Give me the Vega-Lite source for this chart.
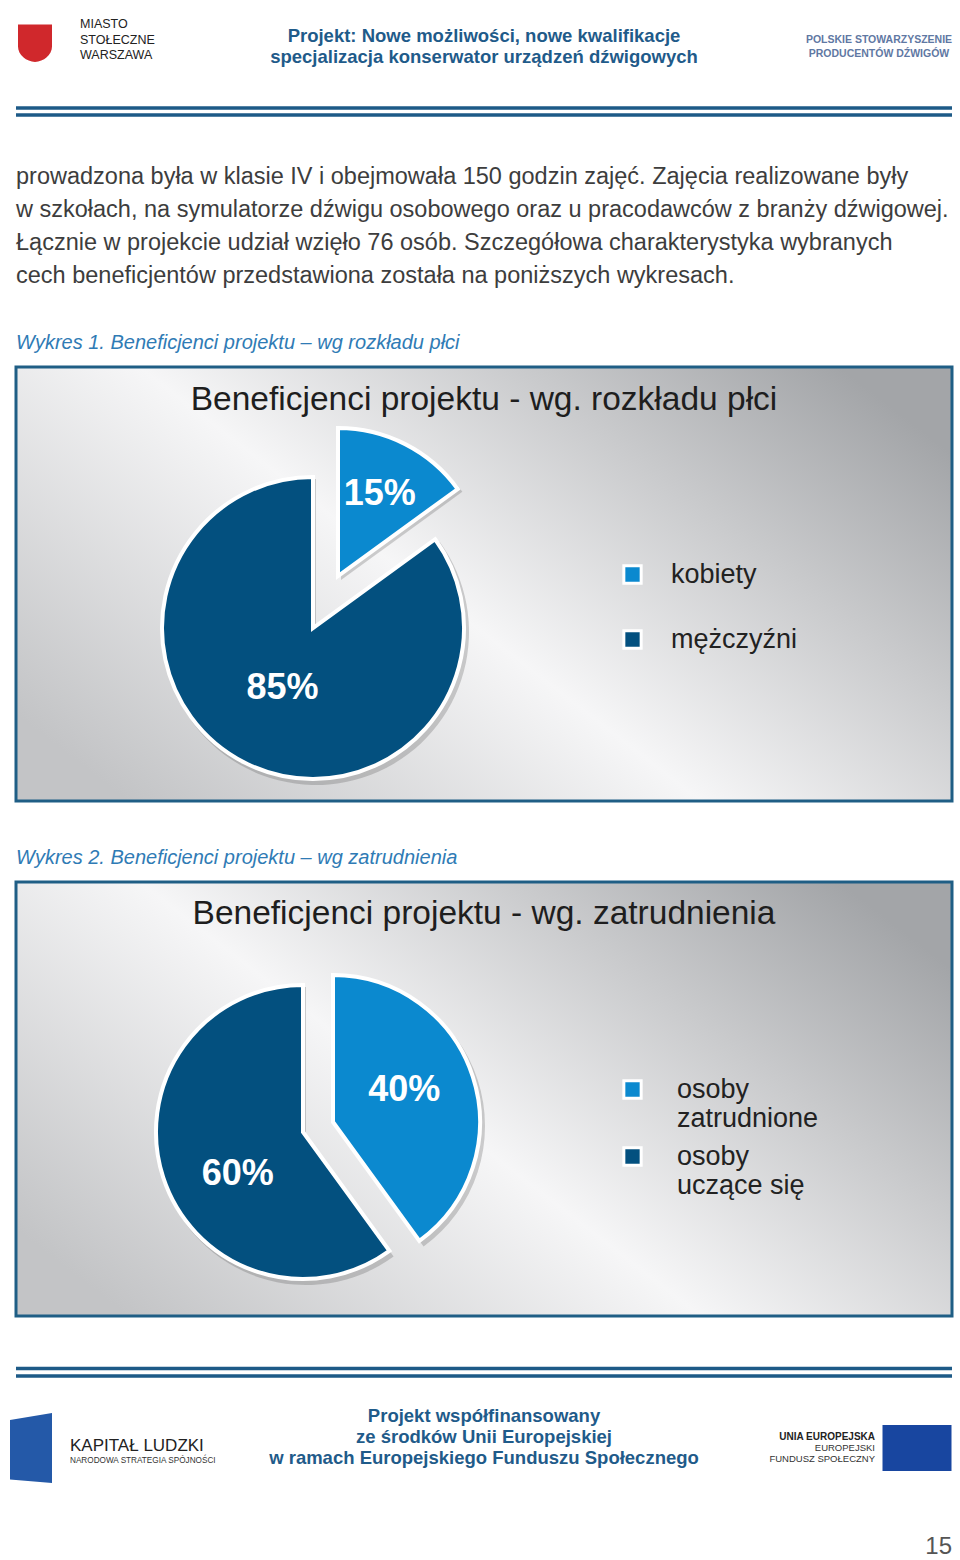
{
  "$schema": "https://vega.github.io/schema/vega-lite/v6.json",
  "background": "white",
  "padding": {"left": 10, "right": 8, "top": 0, "bottom": 0},
  "spacing": 43,
  "config": {"view": {"stroke": null}, "font": "Liberation Sans"},
  "resolve": {"scale": {"color": "independent", "theta": "independent"}, "legend": {"color": "independent"}},
  "vconcat": [
    {
      "width": 936,
      "height": 115,
      "title": {
        "text": [
          "prowadzona była w klasie IV i obejmowała 150 godzin zajęć. Zajęcia realizowane były",
          "w szkołach, na symulatorze dźwigu osobowego oraz u pracodawców z branży dźwigowej.",
          "Łącznie w projekcie udział wzięło 76 osób. Szczegółowa charakterystyka wybranych",
          "cech beneficjentów przedstawiona została na poniższych wykresach."
        ],
        "orient": "bottom",
        "anchor": "start",
        "frame": "group",
        "offset": 48,
        "font": "Liberation Sans",
        "fontSize": 23.5,
        "fontWeight": "normal",
        "color": "#3d3d3d",
        "lineHeight": 33
      },
      "layer": [
        {
          "data": {"values": [{"linia": "górna"}, {"linia": "dolna"}]},
          "mark": {"type": "rule", "color": "#1d5a87", "strokeWidth": 3.5},
          "encoding": {
            "y": {"field": "linia", "type": "nominal", "scale": {"type": "point", "domain": ["górna", "dolna"], "range": [108, 115], "padding": 0}, "axis": null}
          }
        },
        {
          "data": {"values": [{"blok": "miasto", "herb": "Warszawa"}]},
          "mark": {"type": "point", "shape": "M-1,-1H1V0.3C1,0.8 0.5,1.2 0,1.2C-0.5,1.2 -1,0.8 -1,0.3Z", "size": 1156, "filled": true, "color": "#d0282c", "opacity": 1, "xOffset": -45, "yOffset": -16},
          "encoding": {
            "x": {"field": "blok", "type": "nominal", "scale": {"type": "point", "domain": ["miasto", "psp"], "range": [64, 863], "padding": 0}, "axis": null}
          }
        },
        {
          "data": {"values": [{"blok": "miasto", "tekst": ["MIASTO", "STOŁECZNE", "WARSZAWA"]}]},
          "mark": {"type": "text", "align": "left", "baseline": "middle", "font": "Liberation Sans Narrow, Liberation Sans", "fontSize": 12.5, "lineHeight": 15.5, "color": "#222222", "dy": -33.5},
          "encoding": {
            "x": {"field": "blok", "type": "nominal", "scale": {"type": "point", "domain": ["miasto", "psp"], "range": [64, 863], "padding": 0}, "axis": null},
            "text": {"field": "tekst", "type": "nominal"}
          }
        },
        {
          "data": {"values": [{"blok": "psp", "tekst": ["POLSKIE STOWARZYSZENIE", "PRODUCENTÓW DŹWIGÓW"]}]},
          "mark": {"type": "text", "align": "center", "baseline": "middle", "fontSize": 10.5, "fontWeight": "bold", "lineHeight": 14, "color": "#5f78a3", "dy": -18},
          "encoding": {
            "x": {"field": "blok", "type": "nominal", "scale": {"type": "point", "domain": ["miasto", "psp"], "range": [64, 863], "padding": 0}, "axis": null},
            "text": {"field": "tekst", "type": "nominal"}
          }
        },
        {
          "data": {"values": [{"tekst": ["Projekt: Nowe możliwości, nowe kwalifikacje", "specjalizacja konserwator urządzeń dźwigowych"]}]},
          "mark": {"type": "text", "align": "center", "baseline": "middle", "fontSize": 18.5, "fontWeight": "bold", "lineHeight": 21, "color": "#1f5b8a", "dy": -22},
          "encoding": {"text": {"field": "tekst", "type": "nominal"}}
        }
      ]
    },
    {
      "width": 936,
      "height": 434,
      "view": {
        "fill": {"gradient": "linear", "x1": 0, "y1": 0.8, "x2": 1, "y2": 0.2, "stops": [{"offset": 0, "color": "#c3c4c6"}, {"offset": 0.45, "color": "#f6f6f7"}, {"offset": 0.75, "color": "#c9cacc"}, {"offset": 1, "color": "#a3a5a8"}]},
        "stroke": "#1f5e85",
        "strokeWidth": 3
      },
      "title": {"text": "Wykres 1. Beneficjenci projektu – wg rozkładu płci", "orient": "top", "anchor": "start", "frame": "group", "offset": 14, "font": "Liberation Sans", "fontSize": 20, "fontStyle": "italic", "fontWeight": "normal", "color": "#2f7bb5"},
      "data": {"values": [{"kategoria": "kobiety", "udzial": 0.15}, {"kategoria": "mężczyźni", "udzial": 0.85}]},
      "encoding": {
        "theta": {"field": "udzial", "type": "quantitative", "stack": true},
        "order": {"field": "udzial", "sort": "ascending"},
        "color": {
          "field": "kategoria", "type": "nominal",
          "scale": {"domain": ["kobiety", "mężczyźni"], "range": ["#0b89cf", "#03507f"]},
          "legend": {"orient": "none", "legendX": 603, "legendY": 194, "title": null, "symbolType": "square", "symbolSize": 300, "symbolStrokeColor": "white", "symbolStrokeWidth": 3, "labelFont": "Liberation Sans", "labelFontSize": 27, "labelColor": "#222222", "labelOffset": 25, "rowPadding": 34, "labelBaseline": "middle", "padding": 0, "labelLimit": 300}
        }
      },
      "layer": [
        {
          "mark": {"type": "arc", "outerRadius": 153, "x": 300, "y": 265},
          "encoding": {"color": {"value": "#4a4a4a"}, "opacity": {"condition": {"test": "datum.kategoria == 'kobiety'", "value": 0}, "value": 0.25}}
        },
        {
          "mark": {"type": "arc", "outerRadius": 150, "x": 325, "y": 213},
          "encoding": {"color": {"value": "#4a4a4a"}, "opacity": {"condition": {"test": "datum.kategoria == 'mężczyźni'", "value": 0}, "value": 0.25}}
        },
        {
          "mark": {"type": "arc", "outerRadius": 151, "stroke": "white", "strokeWidth": 4, "x": 297, "y": 261},
          "encoding": {"opacity": {"condition": {"test": "datum.kategoria == 'kobiety'", "value": 0}, "value": 1}}
        },
        {
          "mark": {"type": "arc", "outerRadius": 148, "stroke": "white", "strokeWidth": 4, "x": 322, "y": 209},
          "encoding": {"opacity": {"condition": {"test": "datum.kategoria == 'mężczyźni'", "value": 0}, "value": 1}}
        },
        {
          "mark": {"type": "text", "radius": 67, "fontSize": 36, "fontWeight": "bold", "x": 297, "y": 261},
          "encoding": {
            "text": {"field": "udzial", "type": "quantitative", "format": ".0%"},
            "color": {"value": "white"},
            "opacity": {"condition": {"test": "datum.kategoria == 'kobiety'", "value": 0}, "value": 1}
          }
        },
        {
          "mark": {"type": "text", "radius": 92, "fontSize": 36, "fontWeight": "bold", "x": 322, "y": 209},
          "encoding": {
            "text": {"field": "udzial", "type": "quantitative", "format": ".0%"},
            "color": {"value": "white"},
            "opacity": {"condition": {"test": "datum.kategoria == 'mężczyźni'", "value": 0}, "value": 1}
          }
        },
        {
          "data": {"values": [{"tytul": "Beneficjenci projektu - wg. rozkładu płci"}]},
          "mark": {"type": "text", "fontSize": 33.5, "baseline": "middle", "y": 33},
          "encoding": {"text": {"field": "tytul", "type": "nominal"}, "theta": null, "order": null, "color": {"value": "#1e1e1e"}}
        }
      ]
    },
    {
      "width": 936,
      "height": 434,
      "view": {
        "fill": {"gradient": "linear", "x1": 0, "y1": 0.8, "x2": 1, "y2": 0.2, "stops": [{"offset": 0, "color": "#c3c4c6"}, {"offset": 0.45, "color": "#f6f6f7"}, {"offset": 0.75, "color": "#c9cacc"}, {"offset": 1, "color": "#a3a5a8"}]},
        "stroke": "#1f5e85",
        "strokeWidth": 3
      },
      "title": {"text": "Wykres 2. Beneficjenci projektu – wg zatrudnienia", "orient": "top", "anchor": "start", "frame": "group", "offset": 14, "font": "Liberation Sans", "fontSize": 20, "fontStyle": "italic", "fontWeight": "normal", "color": "#2f7bb5"},
      "data": {"values": [{"status": "osoby zatrudnione", "udzial": 0.4}, {"status": "osoby uczące się", "udzial": 0.6}]},
      "encoding": {
        "theta": {"field": "udzial", "type": "quantitative", "stack": true},
        "order": {"field": "udzial", "sort": "ascending"},
        "color": {
          "field": "status", "type": "nominal",
          "scale": {"domain": ["osoby zatrudnione", "osoby uczące się"], "range": ["#0b89cf", "#03507f"]},
          "legend": {"orient": "none", "legendX": 603, "legendY": 194, "title": null, "symbolType": "square", "symbolSize": 300, "symbolStrokeColor": "white", "symbolStrokeWidth": 3, "labelFont": "Liberation Sans", "labelFontSize": 27, "labelColor": "#222222", "labelOffset": 31, "rowPadding": 9, "labelBaseline": "middle", "padding": 0, "labelLimit": 300, "labelExpr": "[slice(datum.label, 0, 5), slice(datum.label, 6)]"}
        }
      },
      "layer": [
        {
          "mark": {"type": "arc", "outerRadius": 149, "x": 290, "y": 254},
          "encoding": {"color": {"value": "#4a4a4a"}, "opacity": {"condition": {"test": "datum.status == 'osoby zatrudnione'", "value": 0}, "value": 0.25}}
        },
        {
          "mark": {"type": "arc", "outerRadius": 149, "x": 320, "y": 244},
          "encoding": {"color": {"value": "#4a4a4a"}, "opacity": {"condition": {"test": "datum.status == 'osoby uczące się'", "value": 0}, "value": 0.25}}
        },
        {
          "mark": {"type": "arc", "outerRadius": 147, "stroke": "white", "strokeWidth": 4, "x": 287, "y": 250},
          "encoding": {"opacity": {"condition": {"test": "datum.status == 'osoby zatrudnione'", "value": 0}, "value": 1}}
        },
        {
          "mark": {"type": "arc", "outerRadius": 147, "stroke": "white", "strokeWidth": 4, "x": 317, "y": 240},
          "encoding": {"opacity": {"condition": {"test": "datum.status == 'osoby uczące się'", "value": 0}, "value": 1}}
        },
        {
          "mark": {"type": "text", "radius": 77, "fontSize": 36, "fontWeight": "bold", "x": 287, "y": 250, "dx": 8, "dy": 18},
          "encoding": {
            "text": {"field": "udzial", "type": "quantitative", "format": ".0%"},
            "color": {"value": "white"},
            "opacity": {"condition": {"test": "datum.status == 'osoby zatrudnione'", "value": 0}, "value": 1}
          }
        },
        {
          "mark": {"type": "text", "radius": 78, "fontSize": 36, "fontWeight": "bold", "x": 317, "y": 240, "dx": -3, "dy": -8},
          "encoding": {
            "text": {"field": "udzial", "type": "quantitative", "format": ".0%"},
            "color": {"value": "white"},
            "opacity": {"condition": {"test": "datum.status == 'osoby uczące się'", "value": 0}, "value": 1}
          }
        },
        {
          "data": {"values": [{"tytul": "Beneficjenci projektu - wg. zatrudnienia"}]},
          "mark": {"type": "text", "fontSize": 33.5, "baseline": "middle", "y": 32},
          "encoding": {"text": {"field": "tytul", "type": "nominal"}, "theta": null, "order": null, "color": {"value": "#1e1e1e"}}
        }
      ]
    },
    {
      "width": 936,
      "height": 196,
      "layer": [
        {
          "data": {"values": [{"linia": "górna"}, {"linia": "dolna"}]},
          "mark": {"type": "rule", "color": "#1d5a87", "strokeWidth": 3.5},
          "encoding": {
            "y": {"field": "linia", "type": "nominal", "scale": {"type": "point", "domain": ["górna", "dolna"], "range": [7.5, 15], "padding": 0}, "axis": null}
          }
        },
        {
          "data": {"values": [{"tekst": ["Projekt współfinansowany", "ze środków Unii Europejskiej", "w ramach Europejskiego Funduszu Społecznego"]}]},
          "mark": {"type": "text", "align": "center", "baseline": "middle", "fontSize": 18.5, "fontWeight": "bold", "lineHeight": 21, "color": "#1f5b8a", "dy": -43},
          "encoding": {"text": {"field": "tekst", "type": "nominal"}}
        },
        {
          "data": {"values": [{"blok": "kapitał", "logo": "Kapitał Ludzki"}]},
          "mark": {"type": "point", "shape": "M-0.6,-0.8L0.6,-1L0.6,1L-0.6,0.9Z", "size": 4900, "filled": true, "color": "#2459a8", "opacity": 1, "xOffset": -39, "yOffset": -11},
          "encoding": {
            "x": {"field": "blok", "type": "nominal", "scale": {"type": "point", "domain": ["kapitał", "strona"], "range": [54, 936], "padding": 0}, "axis": null}
          }
        },
        {
          "data": {"values": [{"blok": "kapitał", "tekst": "KAPITAŁ LUDZKI"}]},
          "mark": {"type": "text", "align": "left", "baseline": "middle", "fontSize": 17, "color": "#222222", "dy": -13},
          "encoding": {
            "x": {"field": "blok", "type": "nominal", "scale": {"type": "point", "domain": ["kapitał", "strona"], "range": [54, 936], "padding": 0}, "axis": null},
            "text": {"field": "tekst", "type": "nominal"}
          }
        },
        {
          "data": {"values": [{"blok": "kapitał", "tekst": "NARODOWA STRATEGIA SPÓJNOŚCI"}]},
          "mark": {"type": "text", "align": "left", "baseline": "middle", "fontSize": 8.2, "color": "#333333", "dy": 2},
          "encoding": {
            "x": {"field": "blok", "type": "nominal", "scale": {"type": "point", "domain": ["kapitał", "strona"], "range": [54, 936], "padding": 0}, "axis": null},
            "text": {"field": "tekst", "type": "nominal"}
          }
        },
        {
          "data": {"values": [{"blok": "strona", "tekst": "UNIA EUROPEJSKA"}]},
          "mark": {"type": "text", "align": "right", "baseline": "middle", "fontSize": 10, "fontWeight": "bold", "color": "#222222", "dx": -77, "dy": -22},
          "encoding": {
            "x": {"field": "blok", "type": "nominal", "scale": {"type": "point", "domain": ["kapitał", "strona"], "range": [54, 936], "padding": 0}, "axis": null},
            "text": {"field": "tekst", "type": "nominal"}
          }
        },
        {
          "data": {"values": [{"blok": "strona", "tekst": ["EUROPEJSKI", "FUNDUSZ SPOŁECZNY"]}]},
          "mark": {"type": "text", "align": "right", "baseline": "middle", "fontSize": 9.5, "lineHeight": 11, "color": "#333333", "dx": -77, "dy": -11},
          "encoding": {
            "x": {"field": "blok", "type": "nominal", "scale": {"type": "point", "domain": ["kapitał", "strona"], "range": [54, 936], "padding": 0}, "axis": null},
            "text": {"field": "tekst", "type": "nominal"}
          }
        },
        {
          "data": {"values": [{"blok": "strona", "flaga": "UE"}]},
          "mark": {"type": "point", "shape": "M-1.5,-1H1.5V1H-1.5Z", "size": 2116, "filled": true, "color": "#1846a0", "opacity": 1, "xOffset": -35, "yOffset": -11},
          "encoding": {
            "x": {"field": "blok", "type": "nominal", "scale": {"type": "point", "domain": ["kapitał", "strona"], "range": [54, 936], "padding": 0}, "axis": null}
          }
        },
        {
          "data": {"values": [{"blok": "strona", "tekst": "15"}]},
          "mark": {"type": "text", "align": "right", "baseline": "middle", "fontSize": 24, "color": "#555555", "dy": 88},
          "encoding": {
            "x": {"field": "blok", "type": "nominal", "scale": {"type": "point", "domain": ["kapitał", "strona"], "range": [54, 936], "padding": 0}, "axis": null},
            "text": {"field": "tekst", "type": "nominal"}
          }
        }
      ]
    }
  ]
}
